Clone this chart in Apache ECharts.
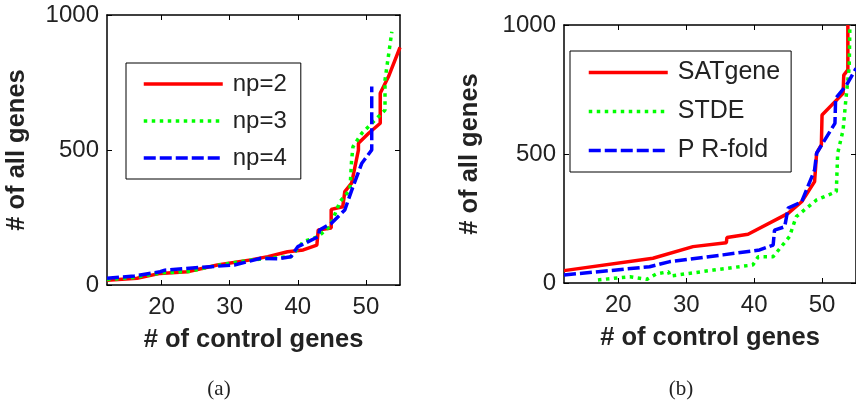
<!DOCTYPE html>
<html>
<head>
<meta charset="utf-8">
<title>control genes</title>
<script src="https://cdn.jsdelivr.net/npm/echarts@6/dist/echarts.min.js"></script>
<style>
    html, body { margin: 0; padding: 0; background: #fff; }
    #main { width: 856px; height: 402px; }
</style>
</head>
<body>
<div id="main"></div>
<script>
// 数据：左图 (a) np=2/3/4 ，右图 (b) 三种方法
var xTicks = [20, 30, 40, 50];
var yTicks = [0, 500, 1000];

var np2 = [[12, 18], [16.4, 25], [19.8, 43], [23.8, 49], [28.2, 74], [33.1, 93], [35.6, 105], [38.5, 123],
    [40.8, 130], [42.8, 148], [43, 204], [44.9, 211], [44.9, 280], [46.6, 290], [46.9, 346], [47.9, 377],
    [48.9, 500], [48.9, 525], [50.4, 562], [52.1, 599], [52.1, 710], [53.3, 771], [55, 880]];
var np3 = [[12, 20], [16, 28], [20, 45], [24, 50], [28, 72], [33, 92], [36, 100], [39, 105], [40.8, 160],
    [43, 180], [44.7, 216], [46.2, 309], [47.65, 352], [47.9, 463], [48.1, 512], [49.4, 562], [52.1, 630],
    [52.8, 648], [52.8, 759], [53.8, 938]];
var np4 = [[12, 25], [16, 33], [19.8, 49], [20.5, 55], [27.2, 68], [30.7, 74], [34.6, 99], [37, 97],
    [39, 105], [40, 142], [41, 154], [43, 179], [43.2, 204], [44.9, 228], [46.9, 278], [48.1, 364],
    [49.4, 451], [50.85, 500], [50.85, 735]];

var satgene = [[12, 48], [25.1, 96], [31, 141], [35.9, 156], [36, 176], [39.1, 189], [45, 270], [47, 315],
    [48.9, 393], [49.2, 503], [49.9, 535], [50, 651], [53.1, 735], [53.2, 806], [53.8, 826], [53.8, 1000]];
var stde = [[17, 12], [21.7, 24], [24.2, 14], [25.6, 35], [27.4, 44], [27.6, 27], [34, 50], [39.8, 70],
    [40.6, 102], [42.8, 102], [45.2, 180], [46.2, 257], [49.2, 322], [52.1, 354], [52.3, 503], [53.1, 593],
    [53.5, 709], [54, 838], [54.1, 1000]];
var prfold = [[12, 31], [24.6, 63], [27.6, 83], [35.4, 109], [40.8, 128], [42.8, 147], [43, 205], [44.5, 218],
    [45, 290], [47, 315], [48.9, 438], [49.2, 503], [51.9, 619], [52, 716], [53.6, 767], [55, 832]];

var FONT = 'Liberation Sans';
var TXT = '#222';

function xAxis(gi, pos) {
    var bottom = pos === 'bottom';
    return {
        type: 'value', gridIndex: gi, position: pos, min: 12, max: 55,
        axisLine: { show: true, onZero: false, lineStyle: { color: '#000', width: 1.5 } },
        axisTick: { show: true, inside: true, length: 5, customValues: xTicks, lineStyle: { color: '#000' } },
        axisLabel: { show: bottom, customValues: xTicks, fontSize: 24, fontFamily: FONT, color: TXT, margin: 10 },
        splitLine: { show: false },
        name: bottom ? '# of control genes' : '', nameLocation: 'middle', nameGap: 42,
        nameTextStyle: { fontSize: 25.5, fontWeight: 'bold', fontFamily: FONT, color: TXT }
    };
}
function yAxis(gi, pos, gap) {
    var left = pos === 'left';
    return {
        type: 'value', gridIndex: gi, position: pos, min: 0, max: 1000, interval: 500,
        axisLine: { show: true, onZero: false, lineStyle: { color: '#000', width: 1.5 } },
        axisTick: { show: true, inside: true, length: 5, lineStyle: { color: '#000' } },
        axisLabel: { show: left, fontSize: 24, fontFamily: FONT, color: TXT, margin: 8,
            formatter: function (v) { return String(v); } },
        splitLine: { show: false },
        name: left ? '# of all genes' : '', nameLocation: 'middle', nameGap: gap,
        nameTextStyle: { fontSize: 25.5, fontWeight: 'bold', fontFamily: FONT, color: TXT }
    };
}
function line(name, data, gi, color, type) {
    return {
        name: name, type: 'line', data: data, xAxisIndex: gi * 2, yAxisIndex: gi * 2,
        symbol: 'none', animation: false,
        lineStyle: { color: color, width: 3.5, type: type, cap: 'butt' },
        itemStyle: { color: color }
    };
}
function legend(names, left, top, pad, gap, size) {
    return {
        data: names, orient: 'vertical', left: left, top: top,
        padding: pad, itemGap: gap, itemWidth: 79, itemHeight: 14,
        itemStyle: { opacity: 0 },
        lineStyle: { width: 3.5 },
        backgroundColor: '#fff', borderColor: '#000', borderWidth: 1, borderRadius: 0,
        selectedMode: false,
        textStyle: { fontSize: size, fontFamily: FONT, color: TXT, padding: [0, 0, 0, 5] }
    };
}

var myChart = echarts.init(document.getElementById('main'), null, { renderer: 'canvas' });

var option = {
    backgroundColor: '#fff',
    animation: false,
    title: [
        { text: '(a)', left: 214, top: 374, textAlign: 'center',
          textStyle: { fontSize: 21, fontWeight: 'normal', fontFamily: 'Liberation Serif', color: TXT } },
        { text: '(b)', left: 676, top: 374, textAlign: 'center',
          textStyle: { fontSize: 21, fontWeight: 'normal', fontFamily: 'Liberation Serif', color: TXT } }
    ],
    grid: [
        { left: 107, top: 15, width: 293, height: 270 },
        { left: 564, top: 25, width: 292, height: 258 }
    ],
    xAxis: [xAxis(0, 'bottom'), xAxis(0, 'top'), xAxis(1, 'bottom'), xAxis(1, 'top')],
    yAxis: [yAxis(0, 'left', 77), yAxis(0, 'right', 0), yAxis(1, 'left', 81), yAxis(1, 'right', 0)],
    legend: [
        legend(['np=2', 'np=3', 'np=4'], 126, 63, [9, 14, 9, 16], 13, 24),
        legend(['SATgene', 'STDE', 'P R-fold'], 570, 51, [9, 11, 9, 17], 14, 25)
    ],
    series: [
        line('np=2', np2, 0, '#ff0000', 'solid'),
        line('np=3', np3, 0, '#00ff00', [3.5, 4.5]),
        line('np=4', np4, 0, '#0000ff', [12, 4]),
        line('SATgene', satgene, 1, '#ff0000', 'solid'),
        line('STDE', stde, 1, '#00ff00', [3.5, 4.5]),
        line('P R-fold', prfold, 1, '#0000ff', [12, 4])
    ]
};

myChart.setOption(option);
</script>
</body>
</html>
